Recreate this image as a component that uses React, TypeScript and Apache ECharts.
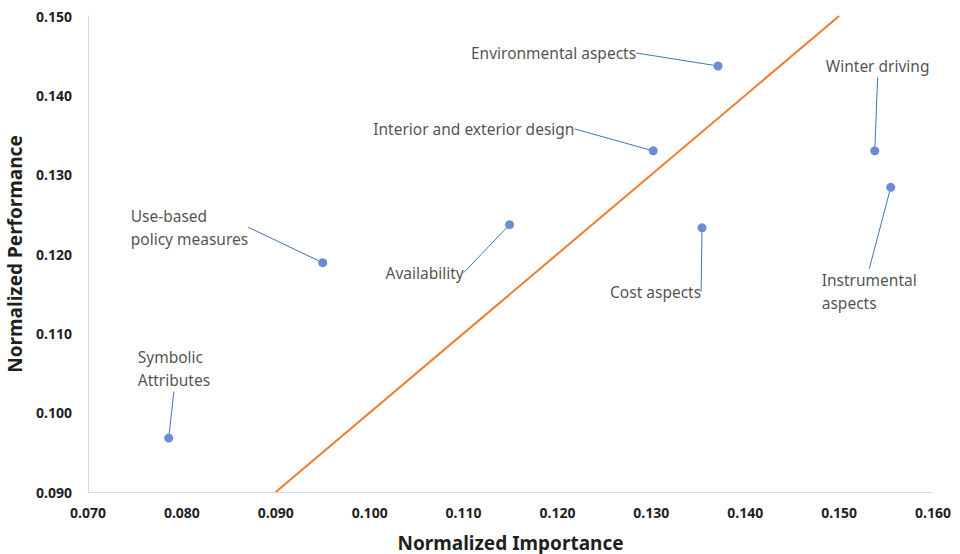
import React, { useEffect, useRef } from "react";
import * as echarts from "echarts";

// Attributes plotted as (importance, performance)
const attributeNames = [
  "Symbolic\nAttributes",
  "Use-based\npolicy measures",
  "Availability",
  "Interior and exterior design",
  "Environmental aspects",
  "Cost aspects",
  "Winter driving",
  "Instrumental\naspects",
];
const importance = [0.0786, 0.095, 0.1149, 0.1302, 0.1371, 0.1354, 0.1538, 0.1555];
const performance = [0.0968, 0.1189, 0.1237, 0.133, 0.1437, 0.1233, 0.133, 0.1284];

// Reference diagonal (importance = performance)
const diagonalX = [0.09, 0.15];
const diagonalY = [0.09, 0.15];

// Label placement: top-left corner of each label relative to its point (px)
const labelOffsetX = [-31, -192, -124, -280, -247, -92, -49, -69];
const labelOffsetY = [-92.5, -58.5, 36.5, -33.5, -24.5, 52.5, -96.5, 81.5];

const xTicks = { min: 0.07, max: 0.16, interval: 0.01 };
const yTicks = { min: 0.09, max: 0.15, interval: 0.01 };

const FONT = "'Noto Sans', 'Open Sans', sans-serif";
const TEXT = "#1f1f1f";
const BLUE = "#4472C4";

export default function App() {
  const ref = useRef<HTMLDivElement>(null);

  useEffect(() => {
    if (!ref.current) return;
    const chart = echarts.init(ref.current, null, { renderer: "svg" });

    const points = importance.map((x, i) => ({
      value: [x, performance[i]],
      name: attributeNames[i],
    }));

    chart.setOption({
      animation: false,
      backgroundColor: "#ffffff",
      grid: { left: 88, right: 27, top: 16, bottom: 62, outerBoundsMode: "none", containLabel: false },
      xAxis: {
        type: "value",
        min: xTicks.min,
        max: xTicks.max,
        interval: xTicks.interval,
        name: "Normalized Importance",
        nameLocation: "middle",
        nameGap: 41,
        nameTextStyle: {
          fontFamily: FONT,
          fontSize: 19,
          lineHeight: 19,
          fontWeight: "bold",
          color: TEXT,
        },
        axisLine: { show: true, lineStyle: { color: "#D9D9D9", width: 1 } },
        axisTick: { show: false },
        splitLine: { show: false },
        axisLabel: {
          margin: 13,
          fontFamily: FONT,
          fontSize: 14,
          fontWeight: "bold",
          color: TEXT,
          formatter: (v: number) => v.toFixed(3),
        },
      },
      yAxis: {
        type: "value",
        min: yTicks.min,
        max: yTicks.max,
        interval: yTicks.interval,
        name: "Normalized Performance",
        nameLocation: "middle",
        nameGap: 64,
        nameTextStyle: { fontFamily: FONT, fontSize: 19, fontWeight: "bold", color: TEXT },
        axisLine: { show: true, lineStyle: { color: "#D9D9D9", width: 1 } },
        axisTick: { show: false },
        splitLine: { show: false },
        axisLabel: {
          margin: 16,
          fontFamily: FONT,
          fontSize: 14,
          fontWeight: "bold",
          color: TEXT,
          formatter: (v: number) => v.toFixed(3),
        },
      },
      series: [
        {
          type: "line",
          data: diagonalX.map((x, i) => [x, diagonalY[i]]),
          symbol: "none",
          lineStyle: { color: "#ED7D31", width: 2 },
          silent: true,
          z: 1,
        },
        {
          type: "scatter",
          data: points,
          symbol: "circle",
          symbolSize: 9,
          itemStyle: { color: BLUE },
          z: 3,
          label: {
            show: true,
            formatter: (p: any) => p.name,
            fontFamily: FONT,
            fontSize: 15.5,
            lineHeight: 23,
            color: TEXT,
            align: "left",
            verticalAlign: "top",
          },
          labelLine: {
            show: true,
            lineStyle: { color: BLUE, width: 1 },
          },
          labelLayout: (params: any) => {
            const cx = params.rect.x + params.rect.width / 2;
            const cy = params.rect.y + params.rect.height / 2;
            const i = params.dataIndex;
            return {
              x: cx + labelOffsetX[i],
              y: cy + labelOffsetY[i],
              align: "left",
              verticalAlign: "top",
            };
          },
        },
      ],
    });

    return () => chart.dispose();
  }, []);

  return (
    <div
      ref={ref}
      style={{ position: "absolute", left: 0, top: 0, width: 960, height: 554 }}
    />
  );
}
